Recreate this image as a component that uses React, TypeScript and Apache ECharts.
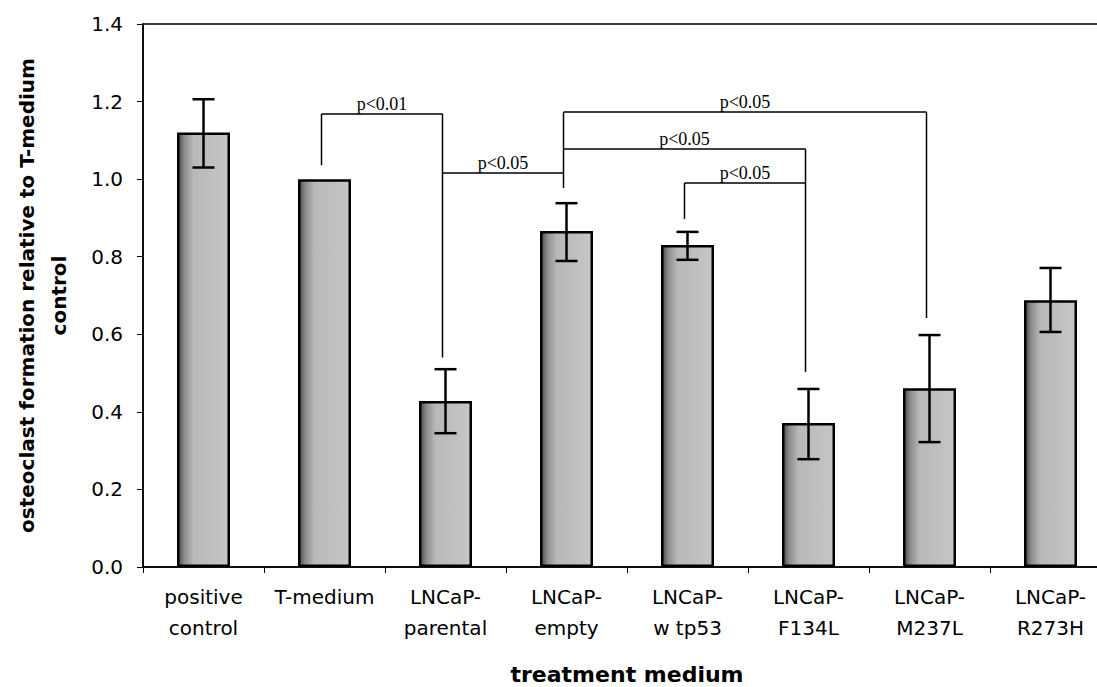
import React, { useEffect, useRef } from "react";
import * as echarts from "echarts";

const categories = [
  "positive\ncontrol",
  "T-medium",
  "LNCaP-\nparental",
  "LNCaP-\nempty",
  "LNCaP-\nw tp53",
  "LNCaP-\nF134L",
  "LNCaP-\nM237L",
  "LNCaP-\nR273H",
];
const values = [1.12, 1.0, 0.428, 0.866, 0.83, 0.371, 0.461, 0.688];
const errLow = [1.03, 1.0, 0.345, 0.789, 0.792, 0.278, 0.322, 0.606];
const errHigh = [1.206, 1.0, 0.51, 0.938, 0.864, 0.459, 0.598, 0.771];
const showErr = [true, false, true, true, true, true, true, true];

// brackets: from category, to category, level, left drop end, right drop end (-1 = none)
const bracketFrom = [1, 2, 3, 3, 4];
const bracketTo = [2, 3, 6, 5, 5];
const bracketLevel = [1.168, 1.016, 1.173, 1.078, 0.99];
const bracketLeftEnd = [1.036, -1, 0.977, -1, 0.897];
const bracketRightEnd = [0.54, -1, 0.642, 0.503, -1];
const bracketLabels = ["p<0.01", "p<0.05", "p<0.05", "p<0.05", "p<0.05"];

const yTicks = [0, 0.2, 0.4, 0.6, 0.8, 1.0, 1.2, 1.4];

export default function App() {
  const ref = useRef<HTMLDivElement>(null);
  useEffect(() => {
    if (!ref.current) return;
    const chart = echarts.init(ref.current, null, { renderer: "svg" });
    const barFill = new echarts.graphic.LinearGradient(0, 0, 1, 0, [
      { offset: 0, color: "#4a4a4a" },
      { offset: 0.12, color: "#8c8c8c" },
      { offset: 0.3, color: "#b8b8b8" },
      { offset: 1, color: "#c6c6c6" },
    ]);
    const errData = values
      .map((_, i) => [i, errLow[i], errHigh[i]])
      .filter((_, i) => showErr[i]);
    const bracketData = bracketFrom.map((f, i) => [
      f,
      bracketTo[i],
      bracketLevel[i],
      bracketLeftEnd[i],
      bracketRightEnd[i],
    ]);
    const dx = -3;
    chart.setOption({
      animation: false,
      backgroundColor: "#fff",
      grid: {
        left: 143,
        top: 24,
        width: 968,
        height: 543,
        containLabel: false,
        outerBoundsMode: "none",
        show: true,
        borderColor: "#000",
        borderWidth: 1.5,
        backgroundColor: "transparent",
      },
      xAxis: {
        type: "category",
        data: categories,
        boundaryGap: true,
        axisLine: { show: true, lineStyle: { color: "#000", width: 1.5 } },
        axisTick: { show: true, length: 6, lineStyle: { color: "#000" } },
        axisLabel: {
          color: "#000",
          fontFamily: "DejaVu Sans",
          fontSize: 20,
          lineHeight: 31,
          margin: 14,
          interval: 0,
        },
        name: "treatment medium",
        nameLocation: "middle",
        nameGap: 96,
        nameTextStyle: {
          color: "#000",
          fontFamily: "DejaVu Sans",
          fontWeight: "bold",
          fontSize: 22,
        },
      },
      yAxis: {
        type: "value",
        min: 0,
        max: 1.4,
        interval: 0.2,
        axisLine: { show: true, lineStyle: { color: "#000", width: 1.5 } },
        axisTick: { show: true, length: 6, lineStyle: { color: "#000" } },
        splitLine: { show: false },
        axisLabel: {
          color: "#000",
          fontFamily: "DejaVu Sans",
          fontSize: 20,
          margin: 20,
          formatter: (v: number) => v.toFixed(1),
        },
        name: "osteoclast formation relative to T-medium\ncontrol",
        nameLocation: "middle",
        nameGap: 68,
        nameTextStyle: {
          color: "#000",
          fontFamily: "DejaVu Sans",
          fontWeight: "bold",
          fontSize: 20,
          lineHeight: 32,
        },
      },
      series: [
        {
          type: "bar",
          data: values,
          barWidth: 53,
          itemStyle: { color: barFill, borderColor: "#000", borderWidth: 2.5 },
        },
        {
          type: "custom",
          data: errData,
          z: 5,
          renderItem: (params: any, api: any) => {
            const i = api.value(0);
            const lo = api.coord([i, api.value(1)]);
            const hi = api.coord([i, api.value(2)]);
            const w = 11;
            const st = { stroke: "#000", lineWidth: 2.5 };
            return {
              type: "group",
              children: [
                { type: "line", shape: { x1: hi[0], y1: hi[1], x2: lo[0], y2: lo[1] }, style: st },
                { type: "line", shape: { x1: hi[0] - w, y1: hi[1], x2: hi[0] + w, y2: hi[1] }, style: st },
                { type: "line", shape: { x1: lo[0] - w, y1: lo[1], x2: lo[0] + w, y2: lo[1] }, style: st },
              ],
            };
          },
        },
        {
          type: "custom",
          data: bracketData,
          z: 6,
          renderItem: (params: any, api: any) => {
            const f = api.value(0);
            const t = api.value(1);
            const lvl = api.value(2);
            const le = api.value(3);
            const re = api.value(4);
            const a = api.coord([f, lvl]);
            const b = api.coord([t, lvl]);
            const st = { stroke: "#000", lineWidth: 1.5 };
            const ax = a[0] + dx;
            const bx = b[0] + dx;
            const children: any[] = [
              { type: "line", shape: { x1: ax, y1: a[1], x2: bx, y2: b[1] }, style: st },
            ];
            if (le >= 0) {
              const p = api.coord([f, le]);
              children.push({ type: "line", shape: { x1: ax, y1: a[1], x2: ax, y2: p[1] }, style: st });
            }
            if (re >= 0) {
              const p = api.coord([t, re]);
              children.push({ type: "line", shape: { x1: bx, y1: b[1], x2: bx, y2: p[1] }, style: st });
            }
            children.push({
              type: "text",
              x: (ax + bx) / 2,
              y: a[1] - 1,
              style: {
                text: bracketLabels[params.dataIndex],
                fill: "#000",
                font: "18px 'Liberation Serif'",
                align: "center",
                verticalAlign: "bottom",
              },
            });
            return { type: "group", children };
          },
        },
      ],
    });
    return () => chart.dispose();
  }, []);
  return (
    <div
      ref={ref}
      style={{ position: "fixed", left: 0, top: 0, width: 1097, height: 687 }}
    />
  );
}
